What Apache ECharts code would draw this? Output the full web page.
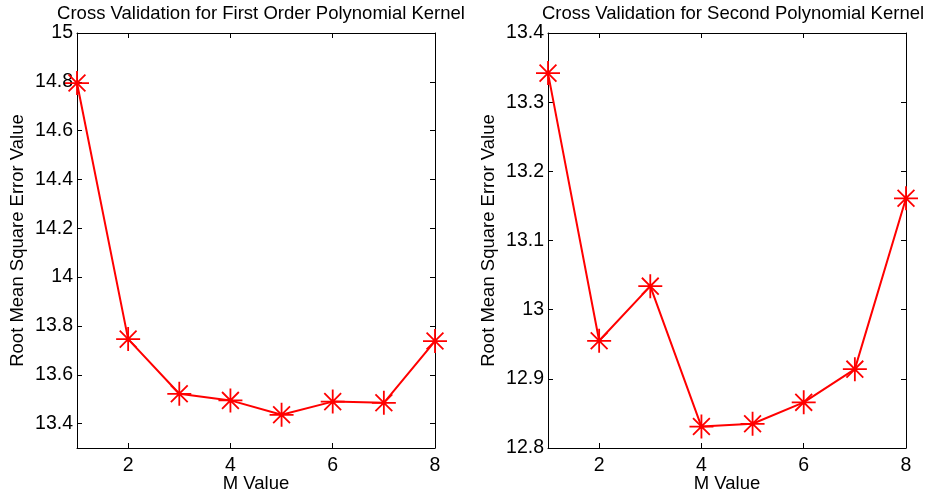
<!DOCTYPE html>
<html>
<head>
<meta charset="utf-8">
<script src="https://cdn.jsdelivr.net/npm/echarts@6/dist/echarts.min.js"></script>
<style>
html,body{margin:0;padding:0;background:#fff;}
#c{width:925px;height:498px;}
</style>
</head>
<body>
<div id="c"></div>
<script>
const mValues = [1, 2, 3, 4, 5, 6, 7, 8];
const firstOrderRmse = [14.795, 13.746, 13.522, 13.495, 13.436, 13.490, 13.485, 13.738];
const secondOrderRmse = [13.342, 12.955, 13.034, 12.831, 12.835, 12.866, 12.914, 13.161];
const xTicks = [2, 4, 6, 8];
const leftYTicks = [13.4, 13.6, 13.8, 14, 14.2, 14.4, 14.6, 14.8, 15];
const rightYTicks = [12.8, 12.9, 13, 13.1, 13.2, 13.3, 13.4];
const titles = ['Cross Validation for First Order Polynomial Kernel', 'Cross Validation for Second Polynomial Kernel'];

const FONT = 'Liberation Sans, Arial, Helvetica, sans-serif';
const star = 'path://M0,10 L20,10 M10,0 L10,20 M3,3 L17,17 M17,3 L3,17';

function xAx(grid, pos, labels) {
  return {
    type: 'value', gridIndex: grid, position: pos, min: 1, max: 8,
    name: labels ? 'M Value' : '', nameLocation: 'middle', nameGap: 26, nameMoveOverlap: false,
    nameTextStyle: {fontFamily: FONT, fontSize: 18.5, color: '#000'},
    axisLine: {show: true, onZero: false, lineStyle: {color: '#000', width: 1}},
    axisTick: {show: true, inside: true, length: 5, customValues: xTicks, lineStyle: {color: '#000'}},
    axisLabel: {show: labels, customValues: xTicks, fontFamily: FONT, fontSize: 19.5, color: '#000', margin: 8},
    splitLine: {show: false}
  };
}
function yAx(grid, pos, labels, mn, mx, ticks) {
  return {
    type: 'value', gridIndex: grid, position: pos, min: mn, max: mx,
    name: labels ? 'Root Mean Square Error Value' : '', nameLocation: 'middle', nameGap: 50, nameMoveOverlap: false,
    nameTextStyle: {fontFamily: FONT, fontSize: 18.5, color: '#000'},
    axisLine: {show: true, onZero: false, lineStyle: {color: '#000', width: 1}},
    axisTick: {show: true, inside: true, length: 5, customValues: ticks, lineStyle: {color: '#000'}},
    axisLabel: {show: labels, customValues: ticks, fontFamily: FONT, fontSize: 19.5, color: '#000', margin: 4},
    splitLine: {show: false}
  };
}
function ser(xi, yi, vals) {
  return {
    type: 'line', xAxisIndex: xi, yAxisIndex: yi,
    data: mValues.map((m, i) => [m, vals[i]]),
    lineStyle: {color: '#ff0000', width: 2},
    symbol: star, symbolSize: 24,
    itemStyle: {color: 'none', borderColor: '#ff0000', borderWidth: 1.8},
    emphasis: {disabled: true},
    clip: false
  };
}

const chart = echarts.init(document.getElementById('c'), null, {renderer: 'canvas'});
chart.setOption({
  animation: false,
  backgroundColor: '#fff',
  title: [
    {text: titles[0], left: 256, top: -1, textAlign: 'center', textStyle: {fontFamily: FONT, fontSize: 18.5, fontWeight: 'normal', color: '#000'}},
    {text: titles[1], left: 728, top: -1, textAlign: 'center', textStyle: {fontFamily: FONT, fontSize: 18.5, fontWeight: 'normal', color: '#000'}}
  ],
  grid: [
    {left: 77, right: 490, top: 33, bottom: 50, outerBoundsMode: 'none', containLabel: false},
    {left: 548, right: 19, top: 33, bottom: 50, outerBoundsMode: 'none', containLabel: false}
  ],
  xAxis: [xAx(0, 'bottom', true), xAx(0, 'top', false), xAx(1, 'bottom', true), xAx(1, 'top', false)],
  yAxis: [
    yAx(0, 'left', true, 13.3, 15, leftYTicks), yAx(0, 'right', false, 13.3, 15, leftYTicks),
    yAx(1, 'left', true, 12.8, 13.4, rightYTicks), yAx(1, 'right', false, 12.8, 13.4, rightYTicks)
  ],
  series: [ser(0, 0, firstOrderRmse), ser(2, 2, secondOrderRmse)]
});
</script>
</body>
</html>
